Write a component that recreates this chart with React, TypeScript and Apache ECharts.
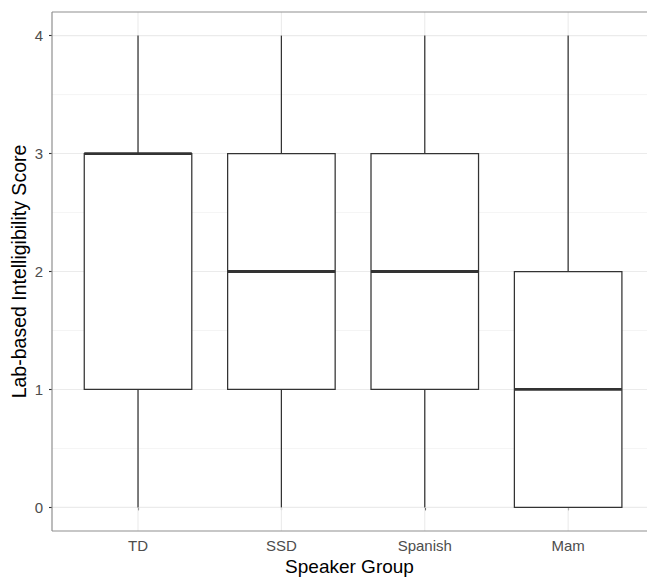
import React, { useEffect, useRef } from "react";
import * as echarts from "echarts";

const categories = ["TD", "SSD", "Spanish", "Mam"];
// [lower whisker, Q1, median, Q3, upper whisker]
const boxStats = [
  [0, 1, 3, 3, 4],
  [0, 1, 2, 3, 4],
  [0, 1, 2, 3, 4],
  [0, 0, 1, 2, 4],
];
const yTicks = [0, 1, 2, 3, 4];
const yMinor = [0.5, 1.5, 2.5, 3.5];
const xTitle = "Speaker Group";
const yTitle = "Lab-based Intelligibility Score";

const FONT = "'Liberation Sans', Arial, Helvetica, sans-serif";
const X_MIN = 0.4;
const X_MAX = 4.55; // panel continues past the right edge of the picture
const Y_MIN = -0.2;
const Y_MAX = 4.2;

export default function App() {
  const ref = useRef<HTMLDivElement>(null);
  useEffect(() => {
    if (!ref.current) return;
    const chart = echarts.init(ref.current, null, { renderer: "svg" });
    const xPos = categories.map((_, i) => i + 1);
    const gridData: any[] = [];
    yTicks.forEach((v) => gridData.push(["h", v, 1.1]));
    yMinor.forEach((v) => gridData.push(["h", v, 0.55]));
    xPos.forEach((v) => gridData.push(["v", v, 1.1]));

    const borderData: any[] = [
      ["h", Y_MAX],
      ["h", Y_MIN],
      ["v", X_MIN],
    ];

    const boxData = boxStats.map((s, i) => [i + 1, ...s]);

    const lineItem = (kind: string, v: number, api: any, style: any) => {
      let p1, p2;
      if (kind === "h") {
        p1 = api.coord([X_MIN, v]);
        p2 = api.coord([X_MAX, v]);
      } else {
        p1 = api.coord([v, Y_MIN]);
        p2 = api.coord([v, Y_MAX]);
      }
      return {
        type: "line",
        shape: { x1: p1[0], y1: p1[1], x2: p2[0], y2: p2[1] },
        style,
      };
    };

    chart.setOption({
      animation: false,
      backgroundColor: "#ffffff",
      grid: {
        left: 52,
        top: 12,
        right: 0,
        height: 519,
        show: false,
        containLabel: false,
        outerBoundsMode: "none",
      },
      xAxis: {
        type: "value",
        min: X_MIN,
        max: X_MAX,
        splitLine: { show: false },
        axisLine: { show: false },
        axisTick: {
          show: true,
          length: 3,
          customValues: xPos,
          lineStyle: { color: "#333333", width: 1.1 },
        },
        axisLabel: {
          customValues: xPos,
          formatter: (v: number) => categories[Math.round(v) - 1] ?? "",
          color: "#4d4d4d",
          fontSize: 15,
          fontFamily: FONT,
          margin: 7,
        },
        name: xTitle,
        nameLocation: "middle",
        nameGap: 26,
        nameMoveOverlap: false,
        nameTextStyle: { color: "#000000", fontSize: 19, fontFamily: FONT },
      },
      yAxis: {
        type: "value",
        min: Y_MIN,
        max: Y_MAX,
        splitLine: { show: false },
        axisLine: { show: false },
        axisTick: {
          show: true,
          length: 3,
          customValues: yTicks,
          lineStyle: { color: "#333333", width: 1.1 },
        },
        axisLabel: {
          customValues: yTicks,
          color: "#4d4d4d",
          fontSize: 15,
          fontFamily: FONT,
          margin: 9,
        },
        name: yTitle,
        nameLocation: "middle",
        nameGap: 23,
        nameMoveOverlap: false,
        nameTextStyle: { color: "#000000", fontSize: 19.5, fontFamily: FONT },
      },
      series: [
        {
          type: "custom",
          silent: true,
          z: 1,
          clip: false,
          data: gridData,
          renderItem: (params: any, api: any) =>
            lineItem(gridData[params.dataIndex][0], api.value(1), api, {
              stroke: "#ebebeb",
              lineWidth: api.value(2),
            }),
        },
        {
          type: "custom",
          z: 2,
          data: boxData,
          renderItem: (params: any, api: any) => {
            const x = api.value(0);
            const lo = api.value(1);
            const q1 = api.value(2);
            const med = api.value(3);
            const q3 = api.value(4);
            const hi = api.value(5);
            const half = 0.375;
            const tl = api.coord([x - half, q3]);
            const br = api.coord([x + half, q1]);
            const mL = api.coord([x - half, med]);
            const mR = api.coord([x + half, med]);
            const cTop = api.coord([x, hi]);
            const cQ3 = api.coord([x, q3]);
            const cQ1 = api.coord([x, q1]);
            const cLo = api.coord([x, lo]);
            const stroke = "#333333";
            const children: any[] = [];
            if (hi > q3) {
              children.push({
                type: "line",
                shape: { x1: cTop[0], y1: cTop[1], x2: cQ3[0], y2: cQ3[1] },
                style: { stroke, lineWidth: 1.25 },
              });
            }
            if (lo < q1) {
              children.push({
                type: "line",
                shape: { x1: cLo[0], y1: cLo[1], x2: cQ1[0], y2: cQ1[1] },
                style: { stroke, lineWidth: 1.25 },
              });
            }
            children.push({
              type: "rect",
              shape: { x: tl[0], y: tl[1], width: br[0] - tl[0], height: br[1] - tl[1] },
              style: { fill: "#ffffff", stroke, lineWidth: 1.25 },
            });
            children.push({
              type: "line",
              shape: { x1: mL[0], y1: mL[1], x2: mR[0], y2: mR[1] },
              style: { stroke, lineWidth: 2.8 },
            });
            return { type: "group", children };
          },
        },
        {
          type: "custom",
          silent: true,
          z: 3,
          clip: false,
          data: borderData,
          renderItem: (params: any, api: any) =>
            lineItem(borderData[params.dataIndex][0], api.value(1), api, {
              stroke: "#8f8f8f",
              lineWidth: 1.2,
            }),
        },
      ],
    });
    return () => chart.dispose();
  }, []);
  return (
    <div
      ref={ref}
      style={{ position: "fixed", left: 0, top: 0, width: 647, height: 577 }}
    />
  );
}
